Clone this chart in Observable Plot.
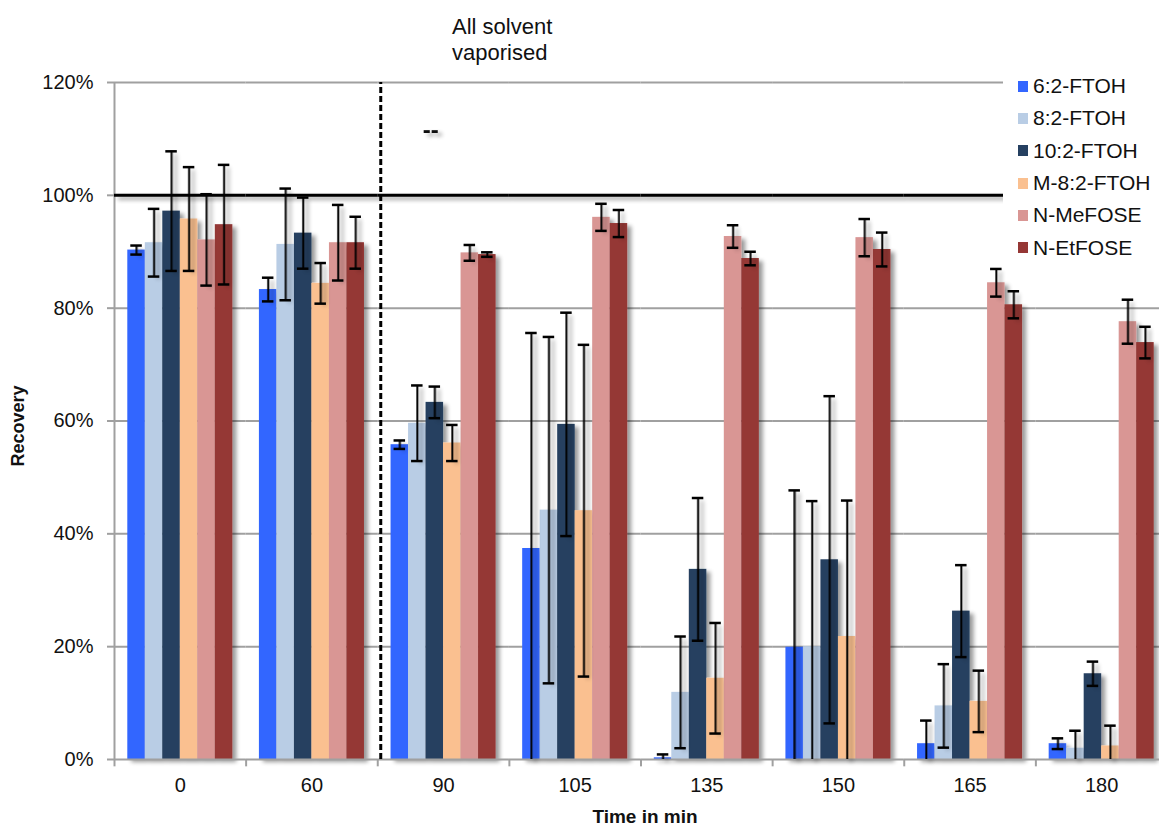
<!DOCTYPE html>
<html><head><meta charset="utf-8">
<script src="https://cdn.jsdelivr.net/npm/d3@7"></script>
<script src="https://cdn.jsdelivr.net/npm/@observablehq/plot@0.6"></script>
<style>
html,body{margin:0;padding:0;background:#fff;overflow:hidden;}
#wrap{position:relative;width:1159px;height:825px;font-family:"Liberation Sans",Arial,Helvetica,sans-serif;color:#111;}
#chart svg{display:block;}
.note{position:absolute;left:452px;top:14px;font-size:22px;line-height:26px;white-space:nowrap;}
.ytitle{position:absolute;left:18px;top:426px;transform:translate(-50%,-50%) rotate(-90deg);font-weight:bold;font-size:18px;white-space:nowrap;}
.xtitle{position:absolute;left:645px;top:810px;transform:translateX(-50%);font-weight:bold;font-size:19px;line-height:14px;white-space:nowrap;}
#legend{position:absolute;left:1003px;top:70px;width:156px;background:#fff;}
#legend .row{display:flex;align-items:center;height:32.3px;font-size:21px;}
#legend .sw{width:10px;height:11px;margin-left:15px;margin-right:5px;}
</style></head>
<body><div id="wrap"><div id="chart"></div></div>
<script>
// Categories
const times = ["0", "60", "90", "105", "135", "150", "165", "180"];
const series = ["6:2-FTOH", "8:2-FTOH", "10:2-FTOH", "M-8:2-FTOH", "N-MeFOSE", "N-EtFOSE"];
const colors = ["#3366ff", "#b9cde5", "#254061", "#fac090", "#d99694", "#953735"];
const yTicks = [0, 20, 40, 60, 80, 100, 120];
const gridTicks = [20, 40, 60, 80, 120];

// Recovery (%) per series, in the order of times
const ftoh62   = [90.3, 83.3, 55.8, 37.4, 0.3, 19.9, 2.8, 2.8];
const ftoh82   = [91.6, 91.3, 59.6, 44.2, 11.9, 20.0, 9.5, 2.0];
const ftoh102  = [97.2, 93.3, 63.3, 59.4, 33.7, 35.4, 26.3, 15.2];
const mftoh82  = [95.8, 84.4, 56.1, 44.1, 14.4, 21.8, 10.3, 2.4];
const meFOSE   = [92.1, 91.6, 89.8, 96.1, 92.7, 92.5, 84.5, 77.6];
const etFOSE   = [94.8, 91.6, 89.5, 95.0, 88.8, 90.4, 80.6, 73.9];

// Error (± %) per series
const ftoh62Err  = [0.8, 2.1, 0.75, 38.2, 0.6, 27.8, 4.1, 0.95];
const ftoh82Err  = [6.0, 9.9, 6.7, 30.7, 9.9, 25.8, 7.4, 3.1];
const ftoh102Err = [10.6, 6.3, 2.8, 19.8, 12.65, 29.0, 8.15, 2.15];
const mftoh82Err = [9.2, 3.6, 3.2, 29.4, 9.8, 24.1, 5.45, 3.6];
const meFOSEErr  = [8.1, 6.7, 1.4, 2.4, 2.0, 3.3, 2.45, 3.9];
const etFOSEErr  = [10.6, 4.6, 0.4, 2.4, 1.2, 3.0, 2.4, 2.8];

const values = [ftoh62, ftoh82, ftoh102, mftoh82, meFOSE, etFOSE];
const errors = [ftoh62Err, ftoh82Err, ftoh102Err, mftoh82Err, meFOSEErr, etFOSEErr];

const rows = times.flatMap((t, i) => series.map((s, j) => {
  const v = values[j][i], e = errors[j][i];
  return {time: t, series: s, value: v, lo: v - e, hi: v + e};
}));

// layout
const W = 1159, H = 825, mL = 114, mR = -8, mT = 82, mB = 66;
const padOuter = 0.76;
const facetW = (W - mL - mR) / times.length;
const step = facetW / (series.length + 2 * padOuter);
const edgeDx = -(0.5 + padOuter) * step; // from first band centre to facet edge

const gray = "#a0a0a0";

const plot = Plot.plot({
  width: W, height: H,
  marginLeft: mL, marginRight: mR, marginTop: mT, marginBottom: mB,
  style: {fontFamily: '"Liberation Sans", Arial, Helvetica, sans-serif', fontSize: "20px", color: "#111", background: "white"},
  fx: {domain: times, padding: 0, round: false, label: null},
  x: {domain: series, paddingInner: 0, paddingOuter: padOuter, round: false, axis: null},
  y: {domain: [0, 120]},
  color: {domain: series, range: colors},
  marks: [
    Plot.gridY(gridTicks, {stroke: gray, strokeOpacity: 1, strokeWidth: 2}),
    Plot.axisY({ticks: yTicks, tickFormat: d => d + "%", tickSize: 7, tickPadding: 14, stroke: gray, strokeWidth: 2, fill: "#111", fontSize: 20, label: null}),
    Plot.axisFx({anchor: "bottom", tickSize: 0, tickPadding: 18, fontSize: 20, fill: "#111", label: null}),
    Plot.barY(rows, {fx: "time", x: "series", y: "value", fill: "series", ariaDescription: "shadow"}),
    Plot.ruleY([0], {stroke: gray, strokeWidth: 2}),
    // y axis line (left edge of first group)
    Plot.ruleX([times[0]], {fx: d => d, x: () => series[0], dx: edgeDx, y1: () => 0, y2: () => 120, stroke: gray, strokeWidth: 2}),
    // group separator ticks below the axis
    Plot.ruleX(times, {fx: d => d, x: () => series[0], dx: edgeDx, y1: () => 0, y2: () => -1.3, stroke: gray, strokeWidth: 2}),
    // dashed divider before the 90 min group
    Plot.ruleX([times[2]], {fx: d => d, x: () => series[0], dx: edgeDx + 3, y1: () => 0, y2: () => 120, stroke: "#000", strokeWidth: 3, strokeDasharray: "6,3"}),
    // 100% reference
    Plot.ruleY([100], {stroke: "#000", strokeWidth: 3, ariaDescription: "shadow"}),
    // error bars
    Plot.ruleX(rows, {fx: "time", x: "series", y1: d => Math.max(0, d.lo), y2: "hi", stroke: "#000", strokeWidth: 2, ariaDescription: "shadow"}),
    Plot.tickY(rows, {fx: "time", x: "series", y: "hi", stroke: "#000", strokeWidth: 2.5, insetLeft: 3, insetRight: 3}),
    Plot.tickY(rows.filter(d => d.lo >= 0), {fx: "time", x: "series", y: "lo", stroke: "#000", strokeWidth: 2.5, insetLeft: 3, insetRight: 3}),
    Plot.text(["--"], {fx: () => times[2], x: () => series[2], y: () => 111.5, text: d => d, fontSize: 24, fontWeight: "bold", dx: -4, fill: "#111", ariaDescription: "shadow"})
  ]
});

d3.select(plot).insert("defs", ":first-child").html(
  '<filter id="sh" filterUnits="userSpaceOnUse" x="-300" y="-200" width="1800" height="1300">' +
  '<feGaussianBlur in="SourceAlpha" stdDeviation="2.2"/>' +
  '<feOffset dx="4" dy="3" result="o"/>' +
  '<feComponentTransfer><feFuncA type="linear" slope="0.4"/></feComponentTransfer>' +
  '<feMerge><feMergeNode/><feMergeNode in="SourceGraphic"/></feMerge></filter>');
d3.select(plot).selectAll('g[aria-description="shadow"]').attr("filter", "url(#sh)");

const wrap = document.getElementById("wrap");
document.getElementById("chart").appendChild(plot);

const note = document.createElement("div");
note.className = "note";
note.innerHTML = "All solvent<br>vaporised";
wrap.appendChild(note);

const yt = document.createElement("div");
yt.className = "ytitle"; yt.textContent = "Recovery";
wrap.appendChild(yt);

const xt = document.createElement("div");
xt.className = "xtitle"; xt.textContent = "Time in min";
wrap.appendChild(xt);

const legend = document.createElement("div");
legend.id = "legend";
series.forEach((s, i) => {
  const row = document.createElement("div");
  row.className = "row";
  const sw = document.createElement("span");
  sw.className = "sw"; sw.style.background = colors[i];
  const lab = document.createElement("span");
  lab.textContent = s;
  row.appendChild(sw); row.appendChild(lab);
  legend.appendChild(row);
});
wrap.appendChild(legend);
</script>
</body></html>
